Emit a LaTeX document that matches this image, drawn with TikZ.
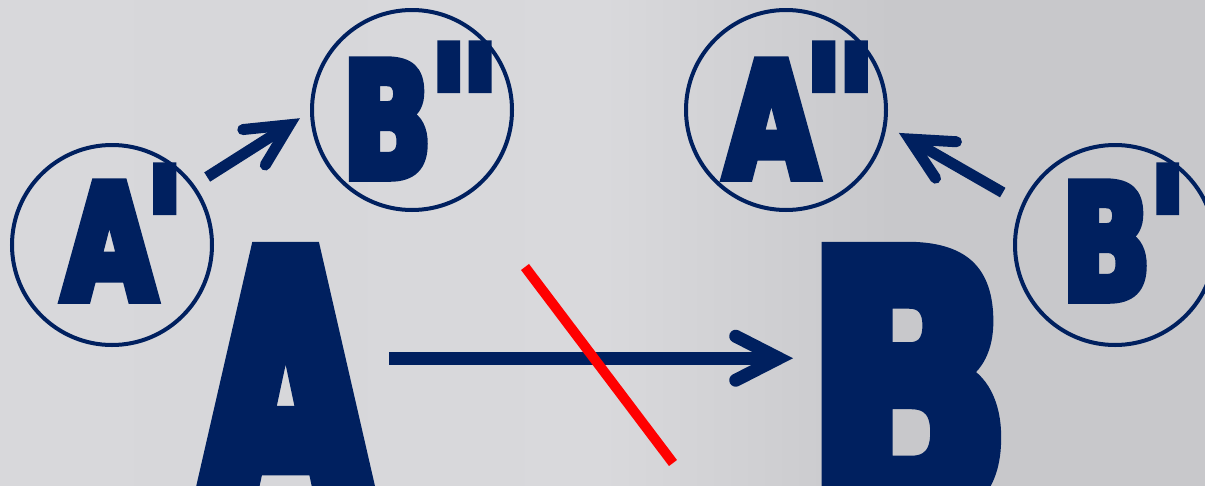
\documentclass[tikz,border=0pt]{standalone}
\usepackage{fontspec}
\newfontfamily\smallAfont{DejaVu Sans}[Ligatures=TeXOff,FakeStretch=0.75,BoldFeatures={FakeBold=6}]
\newfontfamily\smallBfont{DejaVu Sans}[Ligatures=TeXOff,FakeStretch=0.725,BoldFeatures={FakeBold=6}]
\newfontfamily\bigAfont{DejaVu Sans}[Ligatures=TeXOff,FakeStretch=0.62,BoldFeatures={FakeBold=6}]
\newfontfamily\bigBfont{DejaVu Sans}[Ligatures=TeXOff,FakeStretch=0.74,BoldFeatures={FakeBold=6}]
\usetikzlibrary{positioning,arrows.meta}
\definecolor{navy}{HTML}{00205F}
\definecolor{bglight}{HTML}{DDDDE0}
\definecolor{bgband}{HTML}{D9D9DC}
\definecolor{bgdark}{HTML}{C8C8CB}
\pgfdeclarehorizontalshading{backshade}{100bp}{color(0bp)=(bglight); color(35bp)=(bglight!70!bgdark); color(50bp)=(bgband); color(62bp)=(bgdark); color(100bp)=(bgdark)}
\newcommand\squote{\raisebox{0.1em}{'}}
\newcommand\dquote{\raisebox{0.1em}{'\kern-4pt'}}
\tikzset{
  ring/.style={circle,draw=navy,line width=4pt,minimum size=200pt,inner sep=0pt},
  letter/.style={text=navy,inner sep=0pt,anchor=base west},
  smallA/.style={letter,font=\smallAfont\bfseries\fontsize{159}{159}\selectfont},
  smallB/.style={letter,font=\smallBfont\bfseries\fontsize{159}{159}\selectfont},
  bigA/.style={letter,font=\bigAfont\bfseries\fontsize{356}{356}\selectfont},
  bigB/.style={letter,font=\bigBfont\bfseries\fontsize{356}{356}\selectfont},
  linkarrow/.style={draw=navy,line width=11pt,-{Straight Barb[length=42pt,width=42pt,line cap=round,line join=miter]}},
  mainarrow/.style={draw=navy,line width=13pt,-{Straight Barb[length=43pt,width=44pt,line cap=round,line join=miter]}},
  strike/.style={draw=red,line width=10pt}
}
\begin{document}
\begin{tikzpicture}[x=1pt,y=-1pt]
\useasboundingbox (0,0) rectangle (1205,485);
\clip (0,0) rectangle (1205,485);
% background
\shade[shading=backshade,shading angle=0] (0,0) rectangle (1205,485);
% rings
\node[ring] (aprime) at (112,245) {};
\node[ring] (bpp) at (412,110) {};
\node[ring] (app) at (786,110) {};
\node[ring] (bprime) at (1115,245) {};
% letters
\node[smallA] (aprimetext) at (63,299) {A\kern-9pt\squote};
\node[smallB] (bpptext) at (343,177) {B\dquote};
\node[smallA] (apptext) at (725,177) {A\kern-12pt\dquote};
\node[smallB] (bprimetext) at (1062,299) {B\squote};
\node[bigA] (bigA) at (200,512) {A};
\node[bigB] (bigB) at (808,512) {B};
% arrows
\draw[linkarrow,shorten <=15pt,shorten >=12pt] (aprime.36) -- (bpp.181);
\draw[linkarrow,shorten <=22pt,shorten >=14pt] (bprime.156.5) -- (app.-9);
\draw[mainarrow,shorten <=18pt,shorten >=15pt] ([yshift=24pt]bigA.east) -- ([yshift=24pt]bigB.west);
% crossed out
\draw[strike] (525,267) -- (673,463);
\end{tikzpicture}
\end{document}
